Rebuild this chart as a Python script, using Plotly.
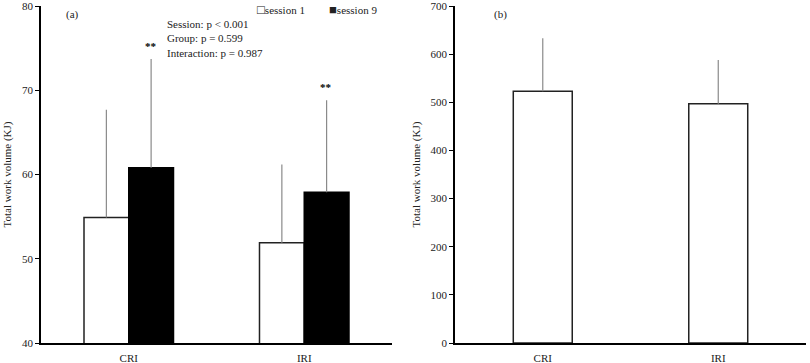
import plotly.graph_objects as go

categories = ["CRI", "IRI"]
session1 = [54.9, 51.9]
session1_sd = [12.8, 9.3]
session9 = [60.8, 57.9]
session9_sd = [12.9, 10.9]
total = [523, 497]
total_sd = [110, 91]
stats_text = ["Session: p < 0.001", "Group: p = 0.599", "Interaction: p = 0.987"]

FONT = "Liberation Serif, Times New Roman, serif"
ERRC = "#8a8a8a"
EDGE = "#222222"

fig = go.Figure()
fig.add_trace(go.Bar(
    x=categories, y=session1, name="session 1", xaxis="x", yaxis="y",
    marker=dict(color="white", line=dict(color=EDGE, width=1.5)),
    error_y=dict(type="data", symmetric=False, array=session1_sd,
                 arrayminus=[0, 0], color=ERRC, thickness=1.2, width=0),
    showlegend=False))
fig.add_trace(go.Bar(
    x=categories, y=session9, name="session 9", xaxis="x", yaxis="y",
    marker=dict(color="black", line=dict(color="black", width=1.5)),
    error_y=dict(type="data", symmetric=False, array=session9_sd,
                 arrayminus=[0, 0], color=ERRC, thickness=1.2, width=0),
    showlegend=False))
fig.add_trace(go.Bar(
    x=categories, y=total, name="total", xaxis="x2", yaxis="y2",
    marker=dict(color="white", line=dict(color=EDGE, width=1.5)),
    error_y=dict(type="data", symmetric=False, array=total_sd,
                 arrayminus=[0, 0], color=ERRC, thickness=1.2, width=0),
    width=0.336, showlegend=False))

axis_common = dict(showline=True, linecolor="black", linewidth=1.5,
                   showgrid=False, zeroline=False, ticklabeloverflow="allow",
                   automargin=False,
                   tickfont=dict(family=FONT, size=11, color="#222"))

fig.update_layout(
    width=810, height=363,
    margin=dict(l=41, r=4, t=6, b=20, autoexpand=False),
    paper_bgcolor="white", plot_bgcolor="white",
    barmode="group", bargap=0.49, bargroupgap=0,
    font=dict(family=FONT, size=11, color="#222"),
    xaxis=dict(domain=[0, 0.4588], ticks="", anchor="y", ticklabelstandoff=4,
               **axis_common),
    yaxis=dict(range=[40, 80], tickvals=[40, 50, 60, 70, 80], ticks="outside",
               ticklen=4, tickwidth=1.2, tickcolor="black", anchor="x",
               title=dict(text="Total work volume (KJ)",
                          font=dict(family=FONT, size=11, color="#222"),
                          standoff=8),
               **axis_common),
    xaxis2=dict(domain=[0.5412, 1], ticks="", anchor="y2", ticklabelstandoff=4,
                **axis_common),
    yaxis2=dict(range=[0, 700], tickvals=[0, 100, 200, 300, 400, 500, 600, 700],
                ticks="outside", ticklen=4, tickwidth=1.2, tickcolor="black",
                anchor="x2",
                title=dict(text="Total work volume (KJ)",
                           font=dict(family=FONT, size=11, color="#222"),
                           standoff=8),
                **axis_common),
)

ann = []
ann.append(dict(text="(a)", xref="paper", yref="paper", x=0.03, y=1.0,
                xanchor="left", yanchor="top", showarrow=False,
                font=dict(family=FONT, size=11, color="#222")))
ann.append(dict(text="(b)", xref="paper", yref="paper", x=0.5412 + 0.048, y=1.0,
                xanchor="left", yanchor="top", showarrow=False,
                font=dict(family=FONT, size=11, color="#222")))
ann.append(dict(text="<br>".join(stats_text), xref="paper", yref="paper",
                x=(165 - 41) / 765, y=0.97,
                xanchor="left", yanchor="top", align="left", showarrow=False,
                font=dict(family=FONT, size=11, color="#222")))
# legend
ann.append(dict(text="<span style='font-size:13px'>□</span>session 1",
                xref="paper", yref="paper",
                x=(255 - 41) / 765, y=1.018, xanchor="left", yanchor="top",
                showarrow=False, font=dict(family=FONT, size=11, color="#222")))
ann.append(dict(text="<span style='font-size:13px'>■</span>session 9",
                xref="paper", yref="paper",
                x=(327 - 41) / 765, y=1.018, xanchor="left", yanchor="top",
                showarrow=False, font=dict(family=FONT, size=11, color="#222")))
# significance markers
for c, v, s in zip(categories, session9, session9_sd):
    ann.append(dict(text="<b>**</b>", xref="x", yref="y", x=c, y=v + s,
                    xshift=22, yshift=5, yanchor="bottom", showarrow=False,
                    font=dict(family=FONT, size=11, color="black")))
fig.update_layout(annotations=ann)

fig.write_html("out.html", config={"displayModeBar": False},
               post_script="document.body.style.margin='0';document.body.style.padding='0';")
